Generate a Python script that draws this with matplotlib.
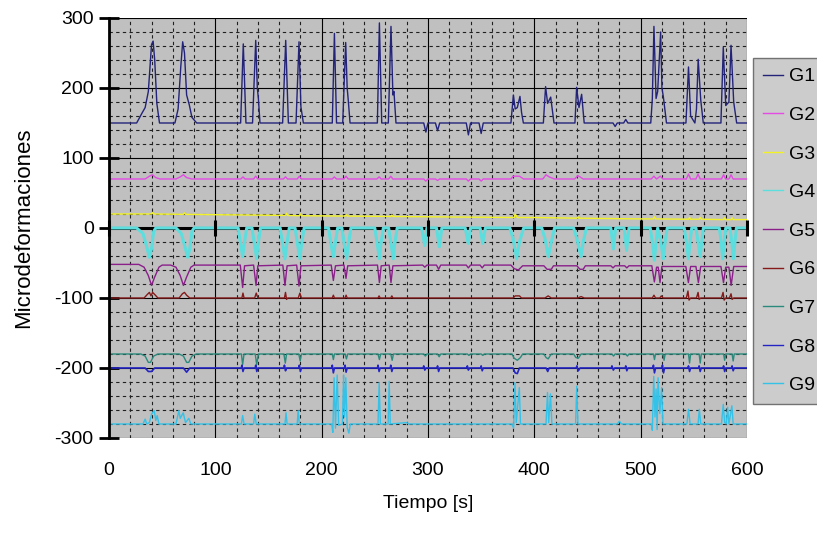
import numpy as np
import matplotlib

matplotlib.use("Agg")
import matplotlib.pyplot as plt
from matplotlib.ticker import MultipleLocator

plt.rcParams["font.family"] = ["Liberation Sans", "DejaVu Sans"]
plt.rcParams["axes.unicode_minus"] = False

# strain gauge readings, (time [s], microstrain) breakpoints
G1 = [(0, 150), (26, 150), (31, 164), (34, 172), (37, 195), (40, 262), (41.5, 267), (43, 240), (45, 178), (47.5, 150),
      (62, 150), (65, 170), (67.5, 230), (69.3, 266), (71, 250), (73, 190), (75.5, 176), (78, 158), (82.5, 150),
      (123.8, 150), (126.3, 263), (128.8, 150),
      (135, 150), (138, 268), (139.5, 200), (140.5, 185), (142, 150),
      (163.3, 150), (166.2, 268), (168.7, 150),
      (175.9, 150), (178.7, 266), (180.5, 173), (182.8, 150),
      (210, 150), (212, 278), (214, 150),
      (219.8, 150), (222.6, 265), (224, 200), (225, 183), (226.7, 150),
      (252.4, 150), (254.3, 293), (256.5, 150),
      (262.7, 150), (265.2, 288), (267, 190), (268, 195), (269.9, 150),
      (296, 150), (298, 137), (300, 150), (307, 150), (309, 139), (311, 150),
      (336, 150), (338, 133), (340, 150), (348, 150), (350, 135), (352, 150),
      (378, 150), (380.3, 190), (382, 170), (384, 172), (386.5, 188), (388, 165), (389.7, 150),
      (408.5, 150), (410.6, 202), (412.5, 178), (415.4, 187), (418.5, 150),
      (438.2, 150), (439.8, 201), (442, 172), (444.5, 191), (446.9, 150),
      (474, 150), (476, 145), (478, 150), (484, 150), (486, 155), (488, 150),
      (509.5, 150), (511, 185), (512.5, 288), (514.5, 185), (516, 195), (518.8, 280), (520, 200), (521.3, 188), (524.3, 150),
      (542.6, 150), (545, 230), (547, 160), (551, 150), (552.5, 170), (554.1, 241), (556.5, 183), (558.9, 150),
      (575.5, 150), (577.7, 258), (580, 175), (583, 180), (585, 261), (587.5, 180), (590.3, 150),
      (600, 150)]

G2 = [(0, 70), (34, 70), (38, 74), (41, 76), (44, 72), (48, 70),
      (63, 70), (67, 73), (70, 76), (73, 72), (78, 70),
      (124, 70), (126, 73), (128, 70), (136, 70), (138, 74), (140, 70),
      (164, 70), (166, 73), (168, 70), (177, 70), (179, 74), (181, 70),
      (210, 70), (212, 73), (214, 70), (221, 70), (223, 74), (225, 70),
      (252, 70), (254, 73), (256, 70), (263, 70), (265, 74), (267, 70),
      (296, 70), (298, 67), (300, 70), (307, 70), (309, 68), (311, 70),
      (336, 70), (338, 67), (340, 70), (348, 70), (350, 67), (352, 70),
      (378, 70), (380, 74), (386, 74), (390, 70),
      (408, 70), (411, 76), (414, 73), (419, 70), (438, 70), (441, 75), (446, 70),
      (510, 70), (512.5, 74), (515, 70), (518.5, 74), (521, 70),
      (543, 70), (545, 77), (547, 70), (552, 70), (554, 77), (556, 70),
      (576, 70), (578, 76), (580, 70), (583, 70), (585, 76), (587, 70),
      (600, 70)]

G3 = [(0, 20), (40, 20), (41, 22), (42, 20), (70, 19.5), (71, 21.5), (72, 19.5), (100, 19),
      (166, 18), (167, 21), (168, 18), (179, 17.5), (180, 20), (181, 17.5),
      (222, 17), (223, 19), (224, 17), (265, 16.5), (266, 18.5), (267, 16.5), (300, 16),
      (381, 15), (382, 20), (384, 15), (400, 15), (440, 14), (441, 16), (442, 14), (500, 13),
      (512, 13), (513, 16), (514, 13), (545, 12.5), (546, 15), (547, 12.5),
      (555, 12.5), (556, 15), (557, 12.5), (578, 12), (579, 14.5), (580, 12),
      (585, 12), (586, 14.5), (587, 12), (600, 12)]

G4 = [(0, 0), (26, 0), (32, -8), (36, -30), (38, -42), (40, -30), (42, -5), (44, 0),
      (63, 0), (68, -8), (72, -30), (74, -42), (76, -30), (78, -5), (80, 0),
      (121.5, 0), (124, -25), (125.7, -41), (127, -25), (129.5, 0),
      (134.5, 0), (137, -25), (138.9, -44), (140, -25), (142.5, 0),
      (161, 0), (163.5, -25), (165.5, -44), (167, -25), (169.5, 0),
      (175, 0), (177.5, -25), (179.6, -44), (181, -25), (183.5, 0),
      (206.5, 0), (209, -25), (211, -41), (212.5, -25), (215, 0),
      (219, 0), (221.5, -25), (223.5, -44), (225, -25), (227.5, 0),
      (250, 0), (252.5, -25), (254.3, -44), (255.5, -25), (258, 0),
      (263, 0), (265.5, -25), (267.4, -44), (268.5, -25), (271, 0),
      (294, 0), (297, -25), (299, 0), (308, 0), (310.7, -27), (313, 0),
      (335, 0), (337.9, -22), (340, 0), (349, 0), (351.5, -22), (354, 0),
      (377, 0), (380, -15), (383.4, -44), (386, -20), (390, 0),
      (407, 0), (410, -15), (413.2, -41), (416, -20), (419, 0),
      (437, 0), (440, -15), (443.9, -41), (446, -20), (449, 0),
      (472, 0), (474.3, -30), (476.5, 0), (484.5, 0), (486.8, -32), (489, 0),
      (509, 0), (511, -20), (512.9, -46), (514.5, -20), (516, 0), (519, -20), (521.4, -44), (523, -20), (525, 0),
      (541, 0), (543, -20), (544.9, -44), (546.5, -20), (548, 0),
      (552, 0), (554, -20), (556, -41), (557.5, -20), (559, 0),
      (574, 0), (575.7, -20), (577.2, -44), (578.7, -20), (580, 0),
      (584, 0), (585.7, -20), (587.2, -44), (588.7, -20), (590, 0), (600, 0)]

G5 = [(0, -52), (28, -52), (33, -56), (37, -68), (40, -82), (43, -70), (47, -56), (50, -53),
      (58, -53), (63, -56), (67, -68), (70, -82), (73, -70), (77, -56), (80, -53),
      (123.5, -53), (125.7, -85), (127.5, -54), (136, -53), (138.3, -82), (140, -54),
      (163.5, -53), (165.5, -82), (167.5, -54), (176.5, -53), (178.7, -83), (180.5, -54),
      (209, -53), (211, -75), (213, -54), (221, -53), (222.9, -72), (224.5, -54),
      (252.5, -53), (254.3, -78), (256, -54), (263.5, -53), (265.2, -78), (267, -54),
      (295, -53), (297, -56), (299, -53), (308, -53), (310, -59), (312, -53),
      (336, -53), (338, -57), (340, -53), (349, -53), (351, -57), (353, -53),
      (378, -53), (381, -58), (385, -60), (389, -54),
      (409, -54), (412, -59), (416, -59), (418, -54), (440, -54), (443, -59), (446, -59), (448, -54),
      (472, -54), (474, -57), (476, -54), (485, -54), (487, -57), (489, -54),
      (510.5, -54), (512.9, -77), (515, -56), (516.5, -56), (518.2, -78), (520, -55),
      (542.5, -55), (544.9, -78), (547, -55), (552, -55), (554.3, -78), (556.5, -55),
      (575.5, -55), (577.9, -78), (580, -56), (583, -56), (585.1, -82), (587.5, -55),
      (600, -55)]

G6 = [(0, -100), (33, -100), (36, -95), (38, -92), (39.5, -97), (41, -92), (43, -95), (46, -100),
      (66, -100), (69, -94), (71, -92), (73, -96), (76, -100),
      (125, -100), (126, -93), (127, -100), (137, -100), (138.5, -93), (140, -100),
      (165, -100), (166, -92), (167, -102), (168, -100), (178, -100), (179.5, -93), (181, -100),
      (210, -100), (211, -96), (212, -100), (222, -100), (223, -96), (224, -100),
      (253, -100), (254, -97), (255, -100), (265, -100), (266, -97), (267, -100),
      (380, -100), (382, -97), (386, -97), (388, -100), (410, -100), (413, -97), (416, -100),
      (441, -100), (444, -98), (447, -100),
      (511, -100), (512.5, -96), (514, -100), (518, -100), (519.5, -97), (521, -100),
      (543, -100), (544.5, -90), (545.5, -103), (547, -100),
      (552.5, -100), (554, -92), (555, -102), (556.5, -100),
      (576, -100), (577.5, -92), (578.5, -103), (580, -100),
      (583.5, -100), (585, -94), (586, -102), (587.5, -100),
      (600, -100)]

G7 = [(0, -180), (30, -180), (34, -183), (37, -192), (39, -192), (42, -183), (46, -180),
      (66, -180), (70, -183), (73, -192), (75, -192), (78, -183), (82, -180),
      (124.5, -180), (125.7, -195), (127, -180), (137.5, -180), (138.9, -195), (140.5, -180),
      (164.5, -180), (165.8, -193), (167, -180), (178.5, -180), (179.8, -190), (181, -180),
      (210, -180), (211, -188), (212, -180), (222, -180), (223.3, -187), (224.5, -180),
      (253, -180), (254.3, -188), (255.5, -180), (265, -180), (266.3, -189), (267.5, -180),
      (296, -180), (297.5, -183), (299, -180), (309, -180), (310.5, -184), (312, -180),
      (337, -180), (338.5, -182), (340, -180), (350, -180), (351.5, -182), (353, -180),
      (379, -180), (381, -186), (384, -189), (387, -185), (389, -180),
      (409, -180), (411, -185), (413, -187), (416, -180),
      (437, -180), (439, -185), (441.5, -186), (444, -180),
      (473, -180), (474.5, -183), (476, -180), (486, -180), (487.5, -183), (489, -180),
      (512, -180), (513, -188), (514, -180), (521, -180), (522, -189), (523, -180),
      (545, -180), (546, -193), (547, -180), (555, -180), (556, -193), (557, -180),
      (578, -180), (579, -189), (580, -180), (586, -180), (587, -190), (588, -180),
      (600, -180)]

G8 = [(0, -200), (34, -200), (37, -205), (40, -205), (43, -200), (70, -200), (73, -206), (76, -200),
      (124.5, -200), (125, -196), (126, -205), (127, -200), (137.5, -200), (138, -196), (139, -205), (140, -200),
      (164.5, -200), (165, -196), (166, -204), (167, -200), (178.5, -200), (179, -196), (180, -205), (181, -200),
      (209.5, -200), (210, -196), (211, -207), (212, -200), (221.5, -200), (222, -196), (223, -206), (224, -200),
      (252.5, -200), (253, -196), (254, -205), (255, -200), (264.5, -200), (265, -196), (266, -205), (267, -200),
      (295.5, -200), (296, -197), (297, -203), (298, -200), (308.5, -200), (309, -197), (310, -205), (311, -200),
      (336.5, -200), (337, -197), (338, -203), (339, -200), (349.5, -200), (350, -197), (351, -204), (352, -200),
      (380, -200), (382, -207), (384, -208), (386, -200), (411, -200), (412.6, -205), (414, -200),
      (439.5, -200), (440, -197), (441.4, -204), (443, -200), (472.5, -200), (473, -197), (474.3, -203), (475.5, -200),
      (485.5, -200), (486, -197), (487, -204), (488, -200),
      (511.5, -200), (512, -196), (513, -207), (514, -200), (520, -200), (520.5, -196), (521.5, -207), (522.5, -200),
      (544.5, -200), (545, -197), (546, -205), (547, -200), (554.5, -200), (555, -197), (556, -205), (557, -200),
      (577.5, -200), (578, -197), (579, -205), (580, -200), (585.5, -200), (586, -197), (587, -204), (588, -200),
      (600, -200)]

G9 = [(0, -280), (32, -280), (34, -273), (35.5, -280), (38, -278), (40, -266), (42.5, -261), (44, -275), (45.3, -268), (47, -280),
      (63, -280), (65.7, -261), (67, -272), (69.8, -264), (72, -278), (75.1, -272), (77, -280),
      (124.5, -280), (125.7, -268), (127, -280), (136, -280), (137.1, -266), (138.5, -280),
      (165.5, -280), (166.5, -264), (167.5, -280), (177, -280), (177.9, -261), (179, -280),
      (209.5, -280), (210.5, -292), (211.7, -214), (213, -286), (214.6, -210), (216, -282),
      (219.5, -280), (220.7, -210), (221.5, -270), (222.7, -214), (224, -285), (225.6, -293), (227, -280),
      (253, -280), (254.1, -221), (255.2, -280), (262.5, -280), (263.5, -219), (264.5, -280),
      (280, -278), (282, -280),
      (379, -280), (380.5, -286), (381.8, -221), (383, -278), (385.9, -228), (387, -280),
      (411, -280), (412.4, -235), (413.5, -278), (415.2, -237), (416.5, -280),
      (438.8, -280), (439.9, -226), (441, -280), (478, -280), (480, -276), (482, -280),
      (510, -280), (511, -289), (512.3, -212), (513.5, -270), (514.5, -230), (515.5, -288), (516.4, -214), (518, -265), (519.7, -228), (521, -280),
      (543.5, -280), (545, -259), (546.5, -280), (554, -280), (555.2, -259), (556.5, -280),
      (576, -280), (577.7, -252), (579, -278), (580.5, -280), (581.8, -256), (583, -280), (585.8, -254), (587, -280),
      (600, -280)]

series = [G1, G2, G3, G4, G5, G6, G7, G8, G9]
labels = ["G1", "G2", "G3", "G4", "G5", "G6", "G7", "G8", "G9"]
colors = ["#23237a", "#e44ae4", "#f2f226", "#5cdede", "#8a1f8a", "#861a1a", "#2a8a7c", "#2424c4", "#35c2e8"]
widths = [1.0, 1.0, 1.0, 2.2, 1.0, 1.0, 1.0, 1.2, 1.0]

fig = plt.figure(figsize=(8.17, 5.34), dpi=100)
ax = fig.add_axes([0.1334, 0.1798, 0.7809, 0.7865])
ax.set_facecolor("#c0c0c0")

# excel-style x axis crossing at zero, drawn under the series
ax.axhline(0, color="black", lw=2.2, zorder=1.8)

handles = []
for pts, lab, col, lw in zip(series, labels, colors, widths):
    t, v = np.array(pts).T
    h, = ax.plot(t, v, color=col, lw=lw, label=lab, zorder=2)
    handles.append(h)

ax.set_xlim(0, 600)
ax.set_ylim(-300, 300)
ax.xaxis.set_major_locator(MultipleLocator(100))
ax.xaxis.set_minor_locator(MultipleLocator(20))
ax.yaxis.set_major_locator(MultipleLocator(100))
ax.yaxis.set_minor_locator(MultipleLocator(20))

ax.grid(which="major", color="black", lw=0.8)
ax.grid(which="minor", color="#202020", lw=0.8, ls=(0, (3, 3)))
ax.set_axisbelow(True)

for side in ["top", "right", "bottom"]:
    ax.spines[side].set_visible(False)
ax.spines["left"].set_linewidth(2)

ax.tick_params(axis="y", which="major", direction="inout", length=14, width=2, labelsize=14, pad=4)
ax.tick_params(axis="x", which="major", length=0, labelsize=14, pad=17)
ax.tick_params(which="minor", length=0)

# tick marks on the zero axis, over the lines
xt = ax.get_xticks()
xt = xt[(xt >= 0) & (xt <= 600)]
ax.plot(xt, np.zeros_like(xt), ls="none", marker="|", ms=11, mew=2.2, color="black", zorder=5, clip_on=False)

ax.set_xlabel("Tiempo [s]", fontsize=14)
ax.xaxis.set_label_coords(0.5, -0.135)
ax.set_ylabel("Microdeformaciones", fontsize=16)
ax.yaxis.set_label_coords(-0.117, 0.5)

leg = fig.legend(handles=handles, loc="upper left", bbox_to_anchor=(753 / 817, 1 - 58 / 534),
                 fontsize=14, frameon=True, fancybox=False, borderaxespad=0, borderpad=0.5,
                 handlelength=1.05, handletextpad=0.3, labelspacing=1.08)
leg.get_frame().set_facecolor("#c0c0c0")
leg.get_frame().set_edgecolor("#555555")
leg.get_frame().set_linewidth(1)
for ln in leg.get_lines():
    ln.set_linewidth(1)

fig.savefig("out.png", dpi=100)
